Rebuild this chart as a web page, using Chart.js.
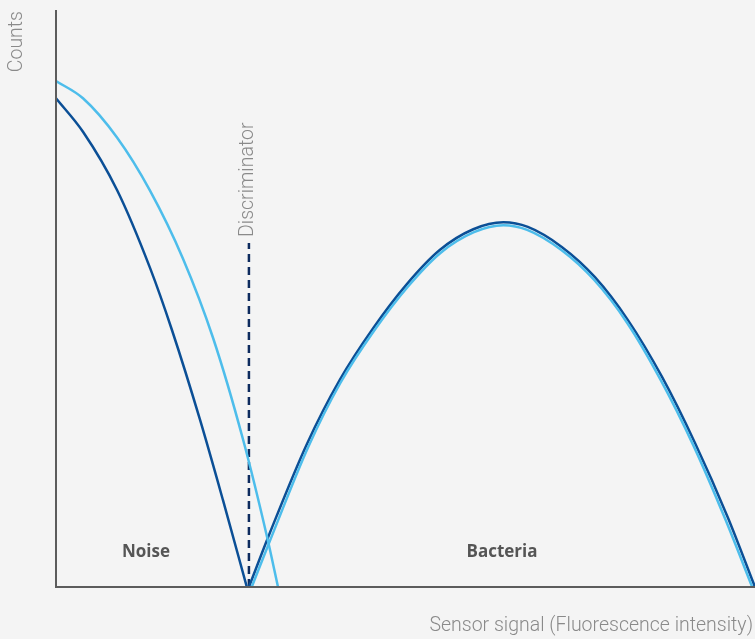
<!DOCTYPE html>
<html>
<head>
<meta charset="utf-8">
<script src="https://cdn.jsdelivr.net/npm/chart.js@4/dist/chart.umd.min.js"></script>
<style>
html,body{margin:0;padding:0;background:#f4f4f4;}
canvas{display:block;}
</style>
</head>
<body>
<canvas id="c" width="755" height="639"></canvas>
<script>
// Data (abstract units: x 0..100 signal, y 0..100 counts)
const noiseDarkX = [0, 3.86, 8.73, 13.45, 16.6, 20.6, 23.9, 27.3];
const noiseDarkY = [84.7, 78.9, 68.8, 55.3, 44.5, 29.0, 15.0, 0];
const noiseLightX = [0, 3.86, 8.73, 13.45, 18.17, 22.46, 26.75, 30.19, 31.76];
const noiseLightY = [87.7, 84.7, 77.9, 68.7, 56.9, 43.2, 25.6, 8.7, 0];
const bactDarkX = [27.6, 30.6, 35.9, 40.6, 45.4, 50.2, 54.9, 59.7, 64.0, 67.5, 72.4, 77.1, 81.8, 86.7, 91.4, 96.1, 100];
const bactDarkY = [0, 9.4, 24.8, 35.9, 44.9, 52.5, 58.4, 62.0, 63.2, 62.4, 58.9, 53.7, 46.3, 36.4, 25.0, 12.1, 0];
const bactLightX = [28.0, 30.9, 36.1, 40.7, 45.5, 50.3, 55.0, 59.8, 64.0, 67.4, 72.3, 77.0, 81.7, 86.5, 91.2, 95.8, 99.6];
const bactLightY = [0, 8.9, 24.3, 35.4, 44.4, 52.0, 57.9, 61.5, 62.7, 61.9, 58.4, 53.2, 45.8, 35.9, 24.5, 11.6, 0];
const discriminatorX = [27.6, 27.6];
const discriminatorY = [0, 59.6];

const labels = {
  yTitle: 'Counts',
  xTitle: 'Sensor signal (Fluorescence intensity)',
  discriminator: 'Discriminator',
  noise: 'Noise',
  bacteria: 'Bacteria'
};

const pts = (xs, ys) => xs.map((x, i) => ({x, y: ys[i]}));

const DARK = '#0b4f96';
const LIGHT = '#4dbdeb';

const deco = {
  id: 'deco',
  afterDatasetsDraw(chart) {
    const {ctx, chartArea: a, scales} = chart;
    ctx.save();
    // axes
    ctx.strokeStyle = '#5c5c5c';
    ctx.lineWidth = 2;
    ctx.beginPath();
    ctx.moveTo(a.left, a.top);
    ctx.lineTo(a.left, a.bottom);
    ctx.lineTo(a.right, a.bottom);
    ctx.stroke();
    // gray titles
    ctx.fillStyle = '#8a8a8a';
    ctx.font = '300 19.5px Roboto';
    ctx.textAlign = 'right';
    ctx.textBaseline = 'middle';
    ctx.fillText(labels.xTitle, 753, 626);
    // Counts rotated
    ctx.save();
    ctx.translate(17, 11);
    ctx.rotate(-Math.PI / 2);
    ctx.textAlign = 'right';
    ctx.fillText(labels.yTitle, 0, 0);
    ctx.restore();
    // Discriminator rotated
    const dx = scales.x.getPixelForValue(discriminatorX[0]);
    ctx.save();
    ctx.translate(dx - 1, 237);
    ctx.rotate(-Math.PI / 2);
    ctx.textAlign = 'left';
    ctx.fillText(labels.discriminator, 0, 0);
    ctx.restore();
    // bold region labels
    ctx.fillStyle = '#555555';
    ctx.font = 'bold 17px "Open Sans"';
    ctx.textAlign = 'center';
    ctx.fillText(labels.noise, 146, 552);
    ctx.fillText(labels.bacteria, 502, 552);
    ctx.restore();
  }
};

new Chart(document.getElementById('c'), {
  type: 'line',
  data: {
    datasets: [
      {data: pts(noiseLightX, noiseLightY), borderColor: LIGHT, borderWidth: 2.5, cubicInterpolationMode: 'monotone'},
      {data: pts(noiseDarkX, noiseDarkY), borderColor: DARK, borderWidth: 2.5, cubicInterpolationMode: 'monotone'},
      {data: pts(bactLightX, bactLightY), borderColor: LIGHT, borderWidth: 2.5, cubicInterpolationMode: 'monotone'},
      {data: pts(bactDarkX, bactDarkY), borderColor: DARK, borderWidth: 2.5, cubicInterpolationMode: 'monotone'},
      {data: pts(discriminatorX, discriminatorY), borderColor: '#0d2b5e', borderWidth: 2.5, borderDash: [8, 5]}
    ]
  },
  options: {
    responsive: false,
    animation: false,
    events: [],
    layout: {padding: {left: 56, top: 10, right: 0, bottom: 52}},
    elements: {point: {radius: 0}, line: {fill: false}},
    plugins: {legend: {display: false}, tooltip: {enabled: false}},
    scales: {
      x: {type: 'linear', min: 0, max: 100, display: false},
      y: {type: 'linear', min: 0, max: 100, display: false}
    }
  },
  plugins: [deco]
});
</script>
</body>
</html>
